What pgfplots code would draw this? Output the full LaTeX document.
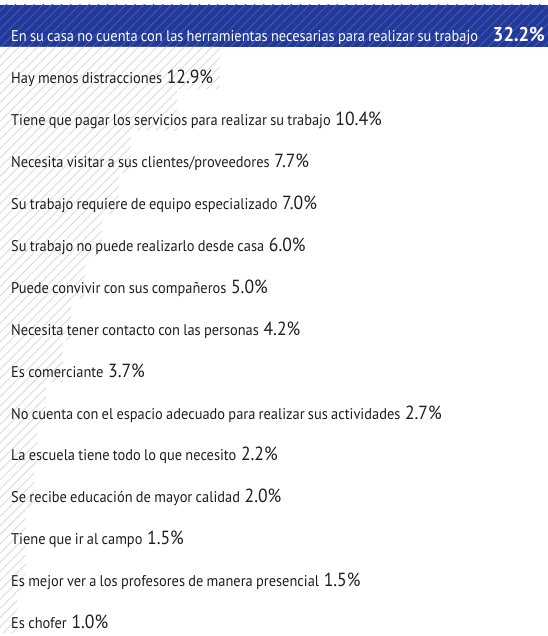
\documentclass[border=0pt]{standalone}
\usepackage{pgfplots}
\pgfplotsset{compat=1.18}
\usepackage{fontspec}
\setmainfont{PT Sans}[FakeStretch=0.93, WordSpace=0.85]
\usetikzlibrary{patterns.meta}

\definecolor{navy}{HTML}{22399A}
\definecolor{navyline}{HTML}{4358B6}
\definecolor{hatch}{HTML}{DEDCDA}
\definecolor{txt}{HTML}{1E1E1E}

% percentage shown after each label
\newcommand{\pv}[1]{\hspace{0.3em}{\fontsize{19bp}{19bp}\selectfont #1\%}}

\begin{document}
\begin{tikzpicture}
\begin{axis}[
  name=ax,
  scale only axis, width=548bp, height=636bp,
  xmin=0, xmax=32.2,
  ymin=-0.619, ymax=14.56, y dir=reverse,
  hide axis,
]
% top bar
\addplot[xbar, bar width=1, bar shift=0pt, draw=none, fill=navy,
  postaction={pattern={Lines[angle=45,distance=6.5bp,line width=0.9bp]}, pattern color=navyline}]
  coordinates {(32.2,0)};
% remaining bars
\addplot[xbar, bar width=1, bar shift=0pt, draw=none, fill=white,
  postaction={pattern={Lines[angle=45,distance=6.5bp,line width=0.9bp]}, pattern color=hatch}]
  coordinates {
    (12.9,1) (10.4,2) (7.7,3) (7.0,4) (6.0,5) (5.0,6) (4.2,7)
    (3.7,8) (2.7,9) (2.2,10) (2.0,11) (1.5,12) (1.5,13) (1.0,14)
  };
% labels
\addplot[draw=none, nodes near coords, point meta=explicit symbolic,
  every node near coord/.append style={anchor=base west, xshift=11bp, yshift=-15.5bp,
    inner sep=0pt, text=white, font=\fontsize{15.5bp}{15bp}\selectfont}]
  coordinates {
    (0,0) [En su casa no cuenta con las herramientas necesarias para realizar su trabajo]
  };
\addplot[draw=none, nodes near coords, point meta=explicit symbolic,
  every node near coord/.append style={anchor=base east, xshift=-3bp, yshift=-15.5bp,
    inner sep=0pt, text=white, font=\bfseries\fontsize{20bp}{20bp}\selectfont}]
  coordinates {
    (32.2,0) [32.2\%]
  };
\addplot[draw=none, nodes near coords, point meta=explicit symbolic,
  every node near coord/.append style={anchor=base west, xshift=11bp, yshift=-16bp,
    inner sep=0pt, text=txt, font=\fontsize{15.5bp}{15bp}\selectfont}]
  coordinates {
    (0,1) [Hay menos distracciones\pv{12.9}]
    (0,2) [Tiene que pagar los servicios para realizar su trabajo\pv{10.4}]
    (0,3) [Necesita visitar a sus clientes/proveedores\pv{7.7}]
    (0,4) [Su trabajo requiere de equipo especializado\pv{7.0}]
    (0,5) [Su trabajo no puede realizarlo desde casa\pv{6.0}]
    (0,6) [Puede convivir con sus compañeros\pv{5.0}]
    (0,7) [Necesita tener contacto con las personas\pv{4.2}]
    (0,8) [Es comerciante\pv{3.7}]
    (0,9) [No cuenta con el espacio adecuado para realizar sus actividades\pv{2.7}]
    (0,10) [La escuela tiene todo lo que necesito\pv{2.2}]
    (0,11) [Se recibe educación de mayor calidad\pv{2.0}]
    (0,12) [Tiene que ir al campo\pv{1.5}]
    (0,13) [Es mejor ver a los profesores de manera presencial\pv{1.5}]
    (0,14) [Es chofer\pv{1.0}]
  };
\end{axis}
\path (ax.south west) rectangle (ax.north east);
\end{tikzpicture}
\end{document}
